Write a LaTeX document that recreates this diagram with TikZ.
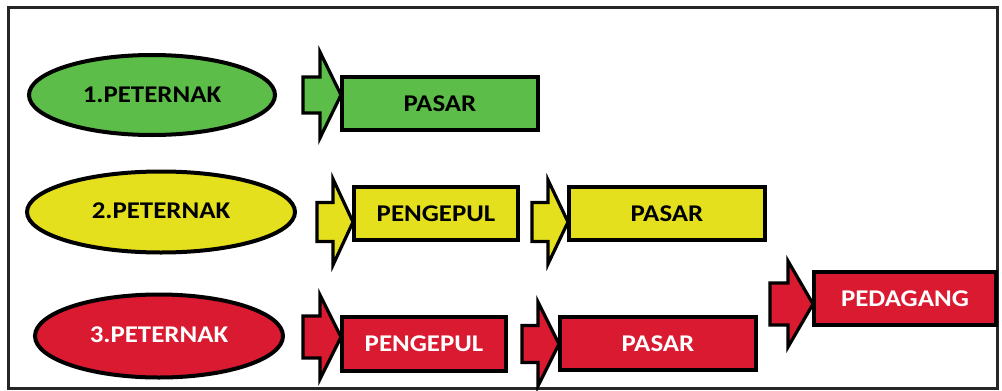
\documentclass[tikz,border=0pt]{standalone}
\usepackage{fontspec}
\newfontfamily\lblfont{Carlito}[FakeStretch=1.12]
\usetikzlibrary{shapes.geometric}
\definecolor{cgreen}{RGB}{92,190,72}
\definecolor{cyellow}{RGB}{229,224,30}
\definecolor{cred}{RGB}{218,26,48}
\tikzset{
  lbl/.style={font=\lblfont\bfseries\fontsize{24}{28}\selectfont},
  oval/.style={ellipse, draw=black, line width=4pt, inner sep=0pt, lbl},
  box/.style={rectangle, draw=black, line width=4pt, inner sep=0pt, lbl},
  barrow/.style={draw=black, line width=3.2pt, line join=miter, miter limit=20},
}
% #1 colour, #2 shaft left x, #3 head base x, #4 tip x, #5 centre y, #6 shaft half, #7 head half
\newcommand\blockarr[7]{%
  \draw[barrow, fill=#1] (#2,#5-#6) -- (#3,#5-#6) -- (#3,#5-#7) -- (#4,#5)
    -- (#3,#5+#7) -- (#3,#5+#6) -- (#2,#5+#6) -- cycle;}
\begin{document}
\begin{tikzpicture}[x=1pt,y=-1pt]
\useasboundingbox (0,0) rectangle (1002,391);
\fill[white] (0,0) rectangle (1002,391);
\draw[line width=3pt, black!85] (8,7) rectangle (997,388) node[coordinate] (frame) {};

% row 1
\node[oval, fill=cgreen, minimum width=246pt, minimum height=80pt] (e1) at (152,95) {1.PETERNAK};
\blockarr{cgreen}{303}{320}{341}{95}{18}{43}
\node[box, fill=cgreen, minimum width=196pt, minimum height=53pt] (p1) at (440,103.5) {PASAR};

% row 2
\node[oval, fill=cyellow, minimum width=268pt, minimum height=81pt] (e2) at (161,212) {\raisebox{2pt}{2.PETERNAK}};
\blockarr{cyellow}{317}{333}{353}{222}{19.5}{43}
\node[box, fill=cyellow, minimum width=164pt, minimum height=53pt] (k2) at (436,213.5) {PENGEPUL};
\blockarr{cyellow}{532}{548}{568}{222}{19.5}{42}
\node[box, fill=cyellow, minimum width=196pt, minimum height=53pt] (p2) at (667,213.5) {PASAR};

% row 3
\node[oval, fill=cred, text=white, minimum width=248pt, minimum height=83pt] (e3) at (159,336) {\raisebox{3pt}{3.PETERNAK}};
\blockarr{cred}{303}{320}{341}{337}{21}{42}
\node[box, fill=cred, text=white, minimum width=164pt, minimum height=54pt] (k3) at (424,344) {PENGEPUL};
\blockarr{cred}{522}{538}{559}{344}{18.5}{42}
\node[box, fill=cred, text=white, minimum width=196pt, minimum height=53pt] (p3) at (658,343.5) {PASAR};
\blockarr{cred}{770}{788}{813}{304}{21}{43}
\node[box, fill=cred, text=white, minimum width=182pt, minimum height=53pt] (d3) at (905,298.5) {PEDAGANG};
\end{tikzpicture}
\end{document}
